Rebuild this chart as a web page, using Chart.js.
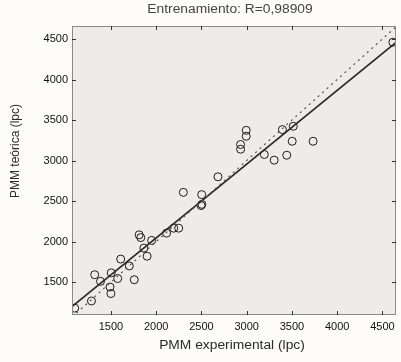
<!DOCTYPE html>
<html>
<head>
<meta charset="utf-8">
<script src="https://cdn.jsdelivr.net/npm/chart.js@4.4.0/dist/chart.umd.min.js"></script>
<style>
  html, body { margin: 0; padding: 0; background: #fdfcfa; }
</style>
</head>
<body>
<canvas id="fitChart" width="401" height="362"></canvas>
<script>
// values
const expX = [1100, 1285, 1321, 1385, 1490, 1500, 1503, 1575, 1608, 1703, 1758, 1812, 1830, 1864, 1900, 1950,
              2115, 2194, 2249, 2300, 2503, 2496, 2505, 2683, 2933, 2933, 2995, 2995, 3195, 3304, 3395, 3515,
              3503, 3443, 3734, 4615];
const teoY = [1180, 1268, 1592, 1510, 1440, 1360, 1615, 1545, 1785, 1700, 1530, 2084, 2050, 1920, 1820, 2015,
              2105, 2166, 2166, 2608, 2580, 2445, 2460, 2800, 3198, 3140, 3373, 3300, 3075, 3005, 3382, 3423,
              3238, 3066, 3238, 4460];
const fitX = [1070, 4650];
const fitY = [1199, 4458];
const diagX = [1070, 4650];
const diagY = [1070, 4650];
const tickValues = [1500, 2000, 2500, 3000, 3500, 4000, 4500];

const titleText = 'Entrenamiento: R=0,98909';
const xLabel = 'PMM experimental (lpc)';
const yLabel = 'PMM teórica (lpc)';

const toPoints = (xs, ys) => xs.map((x, i) => ({ x: x, y: ys[i] }));

// backgrounds, frame and inward ticks (matlab look)
const frame = {
    id: 'frame',
    beforeDraw(chart) {
        const { ctx, chartArea: a } = chart;
        ctx.save();
        ctx.fillStyle = '#fdfcfa';
        ctx.fillRect(0, 0, chart.width, chart.height);
        ctx.fillStyle = '#eeebe8';
        ctx.fillRect(a.left, a.top, a.right - a.left, a.bottom - a.top);
        ctx.restore();
    },
    afterDatasetsDraw(chart) {
        const { ctx, chartArea: a, scales } = chart;
        ctx.save();
        ctx.strokeStyle = '#8a8a8a';
        ctx.lineWidth = 1;
        ctx.strokeRect(a.left + 0.5, a.top + 0.5, a.right - a.left - 1, a.bottom - a.top - 1);
        ctx.strokeStyle = '#333';
        ctx.beginPath();
        tickValues.forEach(v => {
            const px = Math.round(scales.x.getPixelForValue(v)) + 0.5;
            ctx.moveTo(px, a.bottom); ctx.lineTo(px, a.bottom - 4);
            ctx.moveTo(px, a.top); ctx.lineTo(px, a.top + 4);
            const py = Math.round(scales.y.getPixelForValue(v)) + 0.5;
            ctx.moveTo(a.left, py); ctx.lineTo(a.left + 4, py);
            ctx.moveTo(a.right, py); ctx.lineTo(a.right - 4, py);
        });
        ctx.stroke();
        ctx.restore();
    },
    afterDraw(chart) {
        const ctx = chart.ctx;
        ctx.save();
        ctx.font = '12px "Liberation Sans", Arial, sans-serif';
        ctx.textAlign = 'center';
        ctx.textBaseline = 'middle';
        ctx.fillStyle = '#444';
        // title and x label are a bit wider in the original
        ctx.save(); ctx.scale(1.15, 1); ctx.fillText(titleText, 230 / 1.15, 10); ctx.restore();
        ctx.fillStyle = '#2a2a2a';
        ctx.save(); ctx.scale(1.15, 1); ctx.fillText(xLabel, 232 / 1.15, 346); ctx.restore();
        ctx.translate(16, 151);
        ctx.rotate(-Math.PI / 2);
        ctx.fillText(yLabel, 0, 0);
        ctx.restore();
    }
};

const tickFont = { family: '"Liberation Sans", Arial, sans-serif', size: 11 };
const plainTick = v => String(v);

new Chart(document.getElementById('fitChart'), {
    type: 'scatter',
    data: {
        datasets: [
            {
                label: 'y = x',
                data: toPoints(diagX, diagY),
                showLine: true,
                borderColor: '#555',
                borderWidth: 1.2,
                borderDash: [2, 4],
                pointRadius: 0
            },
            {
                label: 'Ajuste',
                data: toPoints(fitX, fitY),
                showLine: true,
                borderColor: '#2a2a2a',
                borderWidth: 1.6,
                pointRadius: 0
            },
            {
                label: 'Datos',
                data: toPoints(expX, teoY),
                pointStyle: 'circle',
                pointRadius: 4,
                backgroundColor: 'rgba(0,0,0,0)',
                borderColor: '#1e1e1e',
                borderWidth: 1
            }
        ]
    },
    options: {
        responsive: false,
        animation: false,
        devicePixelRatio: 1,
        layout: { padding: { top: 26, right: 1, left: 0, bottom: 0 } },
        plugins: {
            legend: { display: false },
            tooltip: { enabled: false }
        },
        scales: {
            x: {
                type: 'linear',
                min: 1070,
                max: 4650,
                afterBuildTicks: s => { s.ticks = tickValues.map(v => ({ value: v })); },
                afterFit: s => { s.height = 47; },
                ticks: { font: tickFont, color: '#111', padding: 5, maxRotation: 0, autoSkip: false, callback: plainTick },
                grid: { display: false, drawTicks: false },
                border: { display: false }
            },
            y: {
                type: 'linear',
                min: 1095,
                max: 4660,
                afterBuildTicks: s => { s.ticks = tickValues.map(v => ({ value: v })); },
                afterFit: s => { s.width = 72; },
                ticks: { font: tickFont, color: '#111', padding: 4, autoSkip: false, callback: plainTick },
                grid: { display: false, drawTicks: false },
                border: { display: false }
            }
        }
    },
    plugins: [frame]
});
</script>
</body>
</html>
